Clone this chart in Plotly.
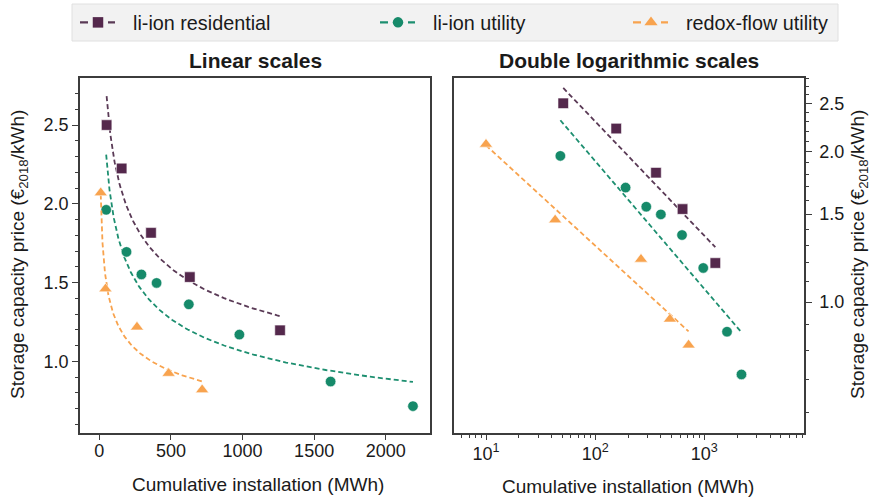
import numpy as np
import plotly.graph_objects as go

# ---------------- data ----------------
series_names = ["li-ion residential", "li-ion utility", "redox-flow utility"]

res_x = [51, 156, 361, 632, 1262]
res_y = [2.50, 2.225, 1.816, 1.535, 1.197]

util_x = [48, 190, 294, 400, 625, 978, 1615, 2190]
util_y = [1.962, 1.695, 1.552, 1.498, 1.362, 1.170, 0.872, 0.716]

redox_x = [10, 43, 263, 484, 718]
redox_y = [2.07, 1.46, 1.218, 0.924, 0.820]

lin_x_ticks = [0, 500, 1000, 1500, 2000]
y_ticks = [1.0, 1.5, 2.0, 2.5]
y_tick_text = ["1.0", "1.5", "2.0", "2.5"]
log_x_ticks = [10, 100, 1000]
log_x_text = ["10<sup>1</sup>", "10<sup>2</sup>", "10<sup>3</sup>"]

# ---------------- styling ----------------
W, H = 879, 499
FONT = "Liberation Sans, Arial, Helvetica, sans-serif"
TXT = "#1a1a1a"
AX = "#3c3c3c"
colors = ["#54284c", "#168a6a", "#f8a34e"]
line_colors = ["#5a3a56", "#1d8f70", "#f8a34e"]
symbols = ["square", "circle", "triangle-up"]
msizes = [10.5, 10.5, 11.5]

def px(x):
    return x / W

def py(y):
    return 1 - y / H

left_dom = [px(80), px(430)]
right_dom = [px(453.5), px(804)]
y_dom = [py(432.5), py(78)]

fig = go.Figure()

data = [(res_x, res_y), (util_x, util_y), (redox_x, redox_y)]

for i, (xs, ys) in enumerate(data):
    xs_a = np.array(xs, dtype=float)
    ys_a = np.array(ys, dtype=float)
    b, a = np.polyfit(np.log10(xs_a), np.log10(ys_a), 1)
    xf = np.logspace(np.log10(xs_a.min()), np.log10(xs_a.max()), 200)
    yf = 10 ** (a + b * np.log10(xf))
    for xa, ya in (("x", "y"), ("x2", "y2")):
        fig.add_trace(go.Scatter(
            x=xf, y=yf, mode="lines", xaxis=xa, yaxis=ya, showlegend=False,
            line=dict(color=line_colors[i], width=1.8, dash="5px,3px"),
            hoverinfo="skip"))
        fig.add_trace(go.Scatter(
            x=xs, y=ys, mode="markers", xaxis=xa, yaxis=ya, showlegend=False,
            name=series_names[i],
            marker=dict(symbol=symbols[i], size=msizes[i], color=colors[i],
                        line=dict(color="rgba(255,255,255,0.7)", width=0.8))))

# legend-only entries (one legend each for exact placement)
legend_keys = ["legend", "legend2", "legend3"]
legend_left = [63, 363, 616]
for i in range(3):
    fig.add_trace(go.Scatter(
        x=[None], y=[None], mode="lines+markers", name=series_names[i],
        legend=legend_keys[i],
        line=dict(color=line_colors[i], width=2.2,
                  dash="0px,12px,8px,20px,7px,100px"),
        marker=dict(symbol=symbols[i], size=msizes[i], color=colors[i])))

axis_common = dict(
    showline=True, linecolor=AX, linewidth=1.5, mirror=True,
    ticks="outside", ticklen=6, tickwidth=1.3, tickcolor=AX,
    showgrid=False, zeroline=False,
    tickfont=dict(family=FONT, size=18, color=TXT),
)

fig.update_layout(
    width=W, height=H,
    margin=dict(l=0, r=0, t=0, b=0),
    paper_bgcolor="white", plot_bgcolor="white",
    font=dict(family=FONT, color=TXT),
    xaxis=dict(domain=left_dom, anchor="y", range=[-134.8, 2309],
               tickmode="array", tickvals=lin_x_ticks, ticklabelstandoff=-5,
               **axis_common),
    yaxis=dict(domain=y_dom, anchor="x", range=[0.5487, 2.7987],
               tickmode="array", tickvals=y_ticks, ticktext=y_tick_text,
               minor=dict(dtick=0.1, tick0=0, ticks="outside", ticklen=3.5,
                          tickwidth=1, tickcolor=AX),
               **axis_common),
    xaxis2=dict(domain=right_dom, anchor="y2", type="log", range=[0.7022, 3.9134],
                tickmode="array", tickvals=log_x_ticks, ticktext=log_x_text,
                ticklabelstandoff=-2,
                minor=dict(tickmode="array",
                           tickvals=[m * 10 ** d for d in range(0, 4) for m in range(2, 10)],
                           ticks="outside", ticklen=3.5, tickwidth=1, tickcolor=AX),
                **axis_common),
    yaxis2=dict(domain=y_dom, anchor="x2", type="log", side="right",
                range=[-0.2614, 0.4487],
                tickmode="array", tickvals=y_ticks, ticktext=y_tick_text,
                ticklabelstandoff=4,
                minor=dict(tickmode="array",
                           tickvals=[round(0.5 + 0.1 * k, 1) for k in range(1, 24)],
                           ticks="outside", ticklen=3.5, tickwidth=1, tickcolor=AX),
                **axis_common),
    shapes=[dict(type="rect", xref="paper", yref="paper",
                 x0=px(72), x1=px(838), y0=py(41), y1=py(4),
                 fillcolor="#f2f2f2", line=dict(color="#e0e0e0", width=1),
                 layer="below")],
)

for i, key in enumerate(legend_keys):
    fig.update_layout({key: dict(
        x=px(legend_left[i]), xanchor="left", y=py(22.5), yanchor="middle",
        orientation="h", bgcolor="rgba(0,0,0,0)", borderwidth=0, itemwidth=60,
        font=dict(family=FONT, size=19.8, color=TXT))})

title_y = "Storage capacity price (€<sub>2018</sub>/kWh)"
annots = [
    dict(text="<b>Linear scales</b>", x=px(255), y=py(60), size=21),
    dict(text="<b>Double logarithmic scales</b>", x=px(628.7), y=py(60), size=21),
    dict(text="Cumulative installation (MWh)", x=px(258), y=py(484), size=19),
    dict(text="Cumulative installation (MWh)", x=px(628), y=py(486), size=19),
    dict(text=title_y, x=px(19), y=py(255), size=19, textangle=-90),
    dict(text=title_y, x=px(859), y=py(255), size=19, textangle=-90),
]
for a in annots:
    fig.add_annotation(
        text=a["text"], x=a["x"], y=a["y"], xref="paper", yref="paper",
        xanchor="center", yanchor="middle", showarrow=False,
        textangle=a.get("textangle", 0),
        font=dict(family=FONT, size=a["size"], color=TXT))

fig.write_html("out.html",
               config={"displayModeBar": False},
               post_script="document.body.style.margin='0px';"
                           "document.body.style.overflow='hidden';")
